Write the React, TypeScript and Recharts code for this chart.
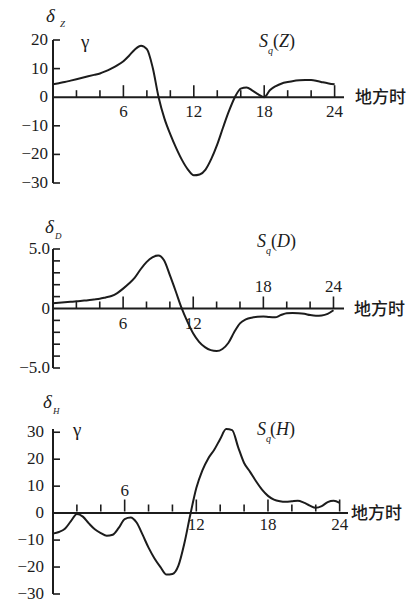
import React from 'react';
import { LineChart, Line, XAxis, YAxis, ReferenceLine } from 'recharts';

// local time in hours, sampled every half hour
const hours = [
  0, 0.5, 1, 1.5, 2, 2.5, 3, 3.5, 4, 4.5, 5, 5.5, 6, 6.5, 7, 7.5, 8, 8.5, 9, 9.5, 10, 10.5, 11, 11.5,
  12, 12.5, 13, 13.5, 14, 14.5, 15, 15.5, 16, 16.5, 17, 17.5, 18, 18.5, 19, 19.5, 20, 20.5, 21, 21.5,
  22, 22.5, 23, 23.5, 24,
];

// Sq(Z), γ
const sqZ = [
  4.5, 4.9, 5.3, 5.8, 6.3, 6.8, 7.3, 7.8, 8.3, 9.1, 10.1, 11.2, 12.6, 14.6, 16.8, 18.0, 16.8, 10.3,
  0, -7.5, -13, -17.8, -22, -25.3, -27.3, -27, -25.3, -21.5, -16.5, -10.5, -4.8, 0, 3.0, 3.4, 2.3, 1.0,
  0, 2.5, 3.9, 4.8, 5.3, 5.7, 5.9, 6.0, 6.0, 5.7, 5.2, 4.8, 4.5,
];

// Sq(D)
const sqD = [
  0.44, 0.48, 0.52, 0.56, 0.6, 0.65, 0.7, 0.76, 0.82, 0.93, 1.05, 1.3, 1.67, 2.1, 2.6, 3.3, 3.9, 4.3,
  4.45, 4.05, 2.8, 1.45, 0.05, -1.1, -2.1, -2.8, -3.25, -3.5, -3.57, -3.4, -2.9, -2.0, -1.25, -0.92,
  -0.77, -0.7, -0.67, -0.72, -0.74, -0.55, -0.4, -0.38, -0.4, -0.45, -0.55, -0.6, -0.58, -0.45, -0.15,
];

// Sq(H), γ
const sqH = [
  -7.6, -7.0, -5.8, -3.0, -0.3, -1.3, -3.8, -6.0, -7.4, -8.4, -8.0, -5.5, -2.2, -1.6, -3.5, -8.0, -12.8,
  -16.8, -20.0, -22.8, -22.6, -19.5, -11.2, -0.5, 9.3, 15.8, 20.3, 23.5, 27.5, 31.2, 30.8, 24.5, 18.6,
  15.3, 11.8, 8.7, 6.4, 5.0, 4.4, 4.2, 4.4, 4.6, 3.9, 2.8, 2.0, 2.6, 4.1, 4.6, 3.8,
];

const hourTicks = [2, 4, 6, 8, 10, 12, 14, 16, 18, 20, 22, 24];
const zTicks = [-30, -20, -10, 0, 10, 20];
const dTicks = [-5, -4, -3, -2, -1, 0, 1, 2, 3, 4, 5];
const dLabeled = [-5, 0, 5];
const hTicks = [-30, -20, -10, 0, 10, 20, 30];

const INK = '#1c1c1c';
const SERIF = "'Liberation Serif', Tinos, 'DejaVu Serif', serif";
const CJK = "'Noto Sans CJK SC', sans-serif";
const serifStyle = { fontFamily: SERIF };

const fmt = (v: number) => (v < 0 ? '\u2212' + Math.abs(v) : String(v));
const fmtD = (v: number) => (v === 0 ? '0' : (v < 0 ? '\u2212' : '') + Math.abs(v).toFixed(1));

type PanelProps = {
  values: number[];
  top: number;
  height: number;
  margin: { top: number; right: number; bottom: number; left: number };
  xMax: number;
  yDomain: [number, number];
  yTicks: number[];
  yText: (v: number) => string | null;
  yGap: number;
  below: number[];
  above: number[];
  belowDy: number;
  aboveDy: number;
  unitOffset: number;
};

function Panel(p: PanelProps) {
  const data = hours.map((h, i) => ({ h, v: p.values[i] }));
  const plotH = p.height - p.margin.top - p.margin.bottom - 2;
  const zeroY = p.margin.top + (plotH * p.yDomain[1]) / (p.yDomain[1] - p.yDomain[0]);

  const renderXTick = (t: any) => {
    const val = t.payload.value;
    const len = val % 6 === 0 ? 12 : 7;
    return (
      <g key={'x' + val}>
        <line x1={t.x} x2={t.x} y1={zeroY} y2={zeroY - len} stroke={INK} strokeWidth={1.6} />
        {p.below.includes(val) && (
          <text x={t.x} y={zeroY + p.belowDy} textAnchor="middle" style={serifStyle} fontSize={17} fill={INK}>
            {val}
          </text>
        )}
        {p.above.includes(val) && (
          <text x={t.x} y={zeroY + p.aboveDy} textAnchor="middle" style={serifStyle} fontSize={17} fill={INK}>
            {val}
          </text>
        )}
      </g>
    );
  };

  const renderYTick = (t: any) => {
    const val = t.payload.value;
    const label = p.yText(val);
    return (
      <g key={'y' + val}>
        {val !== 0 && <line x1={t.x} x2={t.x + 7} y1={t.y} y2={t.y} stroke={INK} strokeWidth={1.6} />}
        {label !== null && (
          <text x={t.x - p.yGap} y={t.y} dy={5} textAnchor="end" style={serifStyle} fontSize={17} fill={INK}>
            {label}
          </text>
        )}
      </g>
    );
  };

  return (
    <div style={{ position: 'absolute', left: 0, top: p.top }}>
      <LineChart width={413} height={p.height} data={data} margin={p.margin}>
        <XAxis
          dataKey="h"
          type="number"
          domain={[0, p.xMax]}
          ticks={hourTicks}
          interval={0}
          height={2}
          axisLine={false}
          tickLine={false}
          tick={renderXTick}
        />
        <YAxis
          type="number"
          domain={p.yDomain}
          ticks={p.yTicks}
          interval={0}
          width={53}
          tickSize={0}
          tickMargin={0}
          tickLine={false}
          axisLine={{ stroke: INK, strokeWidth: 2 }}
          tick={renderYTick}
        />
        <ReferenceLine
          y={0}
          stroke={INK}
          strokeWidth={2}
          label={{
            value: '地方时',
            position: 'right',
            offset: p.unitOffset,
            fill: INK,
            fontSize: 17,
            fontWeight: 500,
            fontFamily: CJK,
          }}
        />
        <Line type="monotone" dataKey="v" stroke={INK} strokeWidth={2} dot={false} isAnimationActive={false} />
      </LineChart>
    </div>
  );
}

export default function App() {
  return (
    <div style={{ position: 'absolute', left: 0, top: 0, width: 413, height: 603, background: '#fff' }}>
      <Panel
        values={sqZ}
        top={0}
        height={200}
        margin={{ top: 40, right: 69, bottom: 15, left: 0 }}
        xMax={24.8}
        yDomain={[-30, 20]}
        yTicks={zTicks}
        yText={fmt}
        yGap={5}
        below={[6, 12, 18, 24]}
        above={[]}
        belowDy={20}
        aboveDy={-16}
        unitOffset={11}
      />
      <Panel
        values={sqD}
        top={200}
        height={200}
        margin={{ top: 49, right: 69, bottom: 30, left: 0 }}
        xMax={24.9}
        yDomain={[-5, 5]}
        yTicks={dTicks}
        yText={(v) => (dLabeled.includes(v) ? fmtD(v) : null)}
        yGap={3}
        below={[6, 12]}
        above={[18, 24]}
        belowDy={20}
        aboveDy={-17}
        unitOffset={10}
      />
      <Panel
        values={sqH}
        top={400}
        height={203}
        margin={{ top: 29, right: 65, bottom: 7, left: 0 }}
        xMax={24.7}
        yDomain={[-30, 30]}
        yTicks={hTicks}
        yText={fmt}
        yGap={9}
        below={[12, 18, 24]}
        above={[6]}
        belowDy={18}
        aboveDy={-16}
        unitOffset={3}
      />
      <svg
        width={413}
        height={603}
        style={{ position: 'absolute', left: 0, top: 0, pointerEvents: 'none', fontFamily: SERIF }}
        fill={INK}
      >
        {/* Z panel */}
        <text x={46} y={22} fontSize={19} fontStyle="italic">δ</text>
        <text x={60} y={27} fontSize={9} fontStyle="italic">Z</text>
        <text x={81} y={48} fontSize={19}>γ</text>
        <text x={259} y={47} fontSize={18} fontStyle="italic">S</text>
        <text x={268} y={54} fontSize={10} fontStyle="italic">q</text>
        <text x={273} y={47} fontSize={18}>(<tspan fontStyle="italic">Z</tspan>)</text>

        {/* D panel */}
        <text x={45} y={233} fontSize={19} fontStyle="italic">δ</text>
        <text x={55} y={239} fontSize={9} fontStyle="italic">D</text>
        <text x={257} y={247} fontSize={18} fontStyle="italic">S</text>
        <text x={266} y={254} fontSize={10} fontStyle="italic">q</text>
        <text x={271} y={247} fontSize={18}>(<tspan fontStyle="italic">D</tspan>)</text>

        {/* H panel */}
        <text x={43} y={408} fontSize={19} fontStyle="italic">δ</text>
        <text x={53} y={414} fontSize={9} fontStyle="italic">H</text>
        <text x={73} y={436} fontSize={19}>γ</text>
        <text x={257} y={435} fontSize={18} fontStyle="italic">S</text>
        <text x={266} y={442} fontSize={10} fontStyle="italic">q</text>
        <text x={270} y={435} fontSize={18}>(<tspan fontStyle="italic">H</tspan>)</text>
      </svg>
    </div>
  );
}
